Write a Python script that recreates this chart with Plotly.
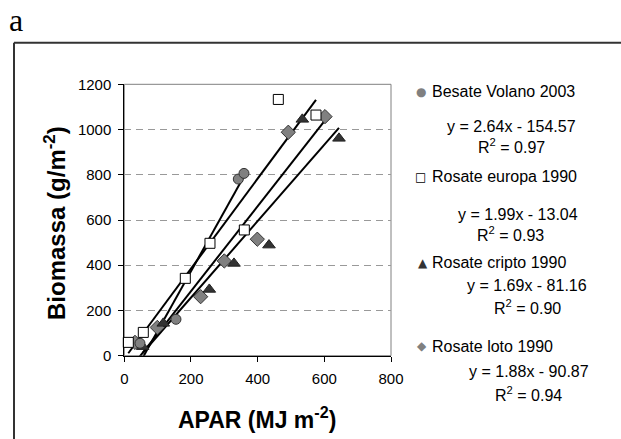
import plotly.graph_objects as go

W, H = 621, 439

# ---- data ----
besate_x = [47, 155, 342, 359]
besate_y = [55, 161, 781, 806]
europa_x = [12, 57, 183, 257, 360, 462, 575]
europa_y = [59, 103, 342, 497, 556, 1133, 1064]
cripto_x = [55, 117, 255, 329, 434, 534, 644]
cripto_y = [40, 143, 293, 408, 489, 1045, 961]
loto_x = [32, 99, 229, 300, 399, 492, 602]
loto_y = [59, 125, 261, 419, 515, 988, 1057]

series_names = ["Besate Volano 2003", "Rosate europa 1990", "Rosate cripto 1990", "Rosate loto 1990"]
slopes = [2.64, 1.99, 1.69, 1.88]
intercepts = [-154.57, -13.04, -81.16, -90.87]
r2 = ["0.97", "0.93", "0.90", "0.94"]

x_ticks = [0, 200, 400, 600, 800]
y_ticks = [0, 200, 400, 600, 800, 1000, 1200]

FONT = "Liberation Sans, Arial, sans-serif"


def P(px, py):
    return px / W, (H - py) / H


fig = go.Figure()

xs = [besate_x, europa_x, cripto_x, loto_x]
ys = [besate_y, europa_y, cripto_y, loto_y]
markers = [
    dict(symbol="circle", size=10, color="#808080", line=dict(color="#333333", width=1)),
    dict(symbol="square", size=10, color="white", line=dict(color="black", width=1)),
    dict(symbol="triangle-up", size=11, color="#333333", line=dict(color="#222222", width=1)),
    dict(symbol="diamond", size=11, color="#808080", line=dict(color="#333333", width=1)),
]

# trend lines (under markers)
for i in range(4):
    x0, x1 = min(xs[i]), max(xs[i])
    fig.add_trace(go.Scatter(
        x=[x0, x1], y=[slopes[i] * x0 + intercepts[i], slopes[i] * x1 + intercepts[i]],
        mode="lines", line=dict(color="black", width=2), showlegend=False, hoverinfo="skip"))

for i in [3, 2, 1, 0]:
    fig.add_trace(go.Scatter(x=xs[i], y=ys[i], mode="markers", marker=markers[i],
                             name=series_names[i], showlegend=False, cliponaxis=False))

x_dom = [124.3 / W, 391 / W]
y_dom = [(H - 355.7) / H, (H - 84.3) / H]

fig.update_layout(
    width=W, height=H,
    margin=dict(l=0, r=0, t=0, b=0),
    paper_bgcolor="white", plot_bgcolor="white",
    font=dict(family=FONT, color="black", size=15),
    xaxis=dict(domain=x_dom, range=[0, 800], tickvals=x_ticks, ticktext=[str(v) for v in x_ticks],
               showgrid=False, zeroline=False, showline=True, linecolor="black", linewidth=1,
               ticks="outside", ticklen=5, tickcolor="black", tickfont=dict(size=15),
               ticklabelstandoff=4, automargin=False, fixedrange=True),
    yaxis=dict(domain=y_dom, range=[0, 1200], tickvals=y_ticks, ticktext=[str(v) for v in y_ticks],
               showgrid=True, gridcolor="#999999", griddash="7px,5px", gridwidth=1,
               zeroline=False, showline=True, linecolor="black", linewidth=1,
               ticks="outside", ticklen=5, tickcolor="black", tickfont=dict(size=15),
               ticklabelstandoff=4, automargin=False, fixedrange=True),
)

shapes = []
shapes.append(dict(type="rect", xref="paper", yref="paper",
                   x0=x_dom[0], x1=x_dom[1], y0=y_dom[0], y1=y_dom[1],
                   line=dict(color="#808080", width=1), layer="below"))
bx, by = P(14, 42.7)
shapes.append(dict(type="line", xref="paper", yref="paper", x0=bx, x1=bx, y0=-0.05, y1=by,
                   line=dict(color="#333333", width=2)))
shapes.append(dict(type="line", xref="paper", yref="paper", x0=bx, x1=1.05, y0=by, y1=by,
                   line=dict(color="#333333", width=2)))
fig.update_layout(shapes=shapes)

ann = []


def add_text(px, py, text, size=16, xanchor="center", bold=False, family=FONT, color="black", textangle=0):
    x, y = P(px, py)
    if bold:
        text = "<b>" + text + "</b>"
    ann.append(dict(x=x, y=y, xref="paper", yref="paper", text=text, showarrow=False,
                    xanchor=xanchor, yanchor="middle", textangle=textangle,
                    font=dict(size=size, family=family, color=color)))


add_text(16, 20, "a", size=32, family="Liberation Serif, Times New Roman, serif")
add_text(257, 418, "APAR (MJ m<sup>-2</sup>)", size=23, bold=True)
add_text(55, 223, "Biomassa (g/m<sup>-2</sup>)", size=24, bold=True, textangle=-90)

sym = ["●", "□", "▲", "◆"]
sym_col = ["#808080", "black", "#333333", "#808080"]
sym_pos = [(420.5, 91.7), (420.7, 176.7), (422.5, 262.7), (421.7, 346)]
eq_pos = [(511.5, 126), (517.5, 215), (527, 285), (529, 371.7)]
r2_pos = [(511, 146), (510.5, 234), (527.5, 307), (528, 394)]
for i in range(4):
    sx, sy = sym_pos[i]
    add_text(sx, sy, sym[i], size=12, color=sym_col[i], family="DejaVu Sans")
    add_text(430, sy, series_names[i], size=16, xanchor="left")
    ex, ey = eq_pos[i]
    sign = "-" if intercepts[i] < 0 else "+"
    add_text(ex, ey, "y = %.2fx %s %.2f" % (slopes[i], sign, abs(intercepts[i])), size=16)
    rx, ry = r2_pos[i]
    add_text(rx, ry, "R<sup>2</sup> = " + r2[i], size=16)

fig.update_layout(annotations=ann)

fig.write_html("out.html", config={"displayModeBar": False},
               post_script="document.body.style.margin='0';document.body.style.overflow='hidden';")
